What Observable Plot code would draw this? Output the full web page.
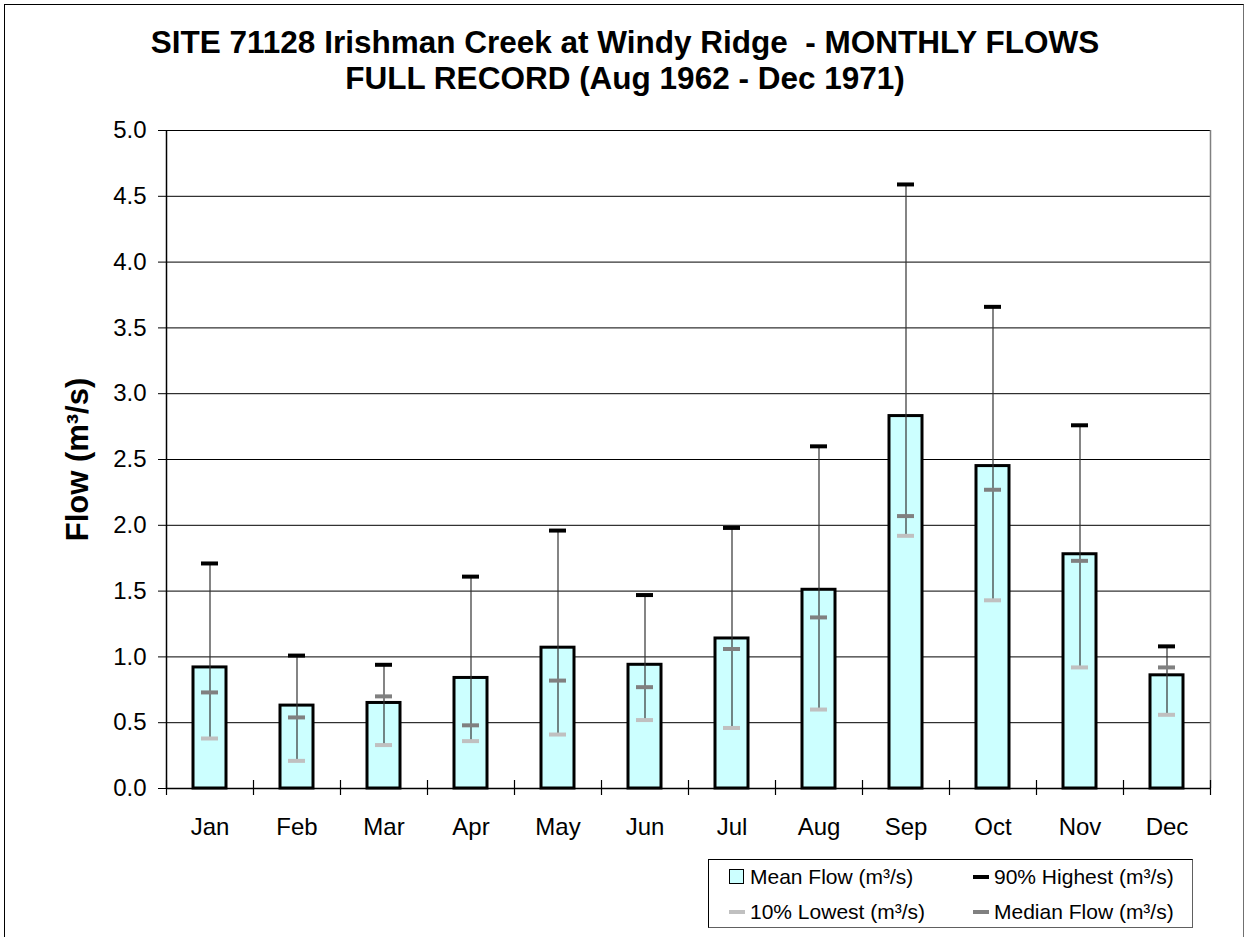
<!DOCTYPE html>
<html>
<head>
<meta charset="utf-8">
<script src="https://cdn.jsdelivr.net/npm/d3@7"></script>
<script src="https://cdn.jsdelivr.net/npm/@observablehq/plot@0.6"></script>
<style>
  html, body { margin: 0; padding: 0; background: #fff; }
  #wrap { position: relative; width: 1247px; height: 937px; overflow: hidden; background: #fff;
          font-family: "Liberation Sans", Arial, Helvetica, sans-serif; color: #000; }
  #frame { position: absolute; left: 4px; top: 4px; width: 1240px; height: 1000px;
           border: 1px solid #000; border-right-color: #707070; box-sizing: border-box; }
  #title { position: absolute; left: 5px; top: 24px; width: 1240px; text-align: center;
           font-weight: bold; font-size: 31.5px; line-height: 36px; white-space: pre; }
  #chart { position: absolute; left: 0; top: 110px; }
  #legend { position: absolute; left: 708px; top: 859px; width: 485px; height: 69px;
            border: 1px solid #000; border-right-color: #606060; border-bottom-color: #606060;
            box-sizing: border-box; font-size: 21px; }
  .item { position: absolute; white-space: nowrap; line-height: 24px; }
  .sw { position: absolute; }
</style>
</head>
<body>
<div id="wrap">
  <div id="frame"></div>
  <div id="title"></div>
  <div id="chart"></div>
  <div id="legend"></div>
</div>
<script>
// ---- data ----
const titleLines = ["SITE 71128 Irishman Creek at Windy Ridge  - MONTHLY FLOWS", "FULL RECORD (Aug 1962 - Dec 1971)"];
const yTitle = "Flow (m³/s)";
const months = ["Jan", "Feb", "Mar", "Apr", "May", "Jun", "Jul", "Aug", "Sep", "Oct", "Nov", "Dec"];
const meanFlow = [0.92, 0.63, 0.65, 0.84, 1.07, 0.94, 1.14, 1.51, 2.83, 2.45, 1.78, 0.86];
const high90   = [1.71, 1.01, 0.94, 1.61, 1.96, 1.47, 1.98, 2.60, 4.59, 3.66, 2.76, 1.08];
const median   = [0.73, 0.54, 0.70, 0.48, 0.82, 0.77, 1.06, 1.30, 2.07, 2.27, 1.73, 0.92];
const low10    = [0.38, 0.21, 0.33, 0.36, 0.41, 0.52, 0.46, 0.60, 1.92, 1.43, 0.92, 0.56];
const yTicks = [0, 0.5, 1, 1.5, 2, 2.5, 3, 3.5, 4, 4.5, 5];
const legendLabels = ["Mean Flow (m³/s)", "90% Highest (m³/s)", "10% Lowest (m³/s)", "Median Flow (m³/s)"];
const legendColors = ["#ccffff", "#000000", "#c0c0c0", "#808080"];

// ---- table ----
const rows = months.map((m, i) => ({i, month: m, mean: meanFlow[i], high: high90[i], median: median[i], low: low10[i]}));
const bounds = d3.range(0, months.length + 1);
const centers = months.map((m, i) => i + 0.5);

document.getElementById("title").textContent = titleLines.join("\n");

const chart = Plot.plot({
  width: 1247,
  height: 750,
  marginLeft: 166,
  marginRight: 37,
  marginTop: 20,
  marginBottom: 72,
  x: {domain: [0, months.length]},
  y: {domain: [0, 5]},
  style: {fontFamily: '"Liberation Sans", Arial, sans-serif', fontSize: "24px", color: "#000", background: "transparent", overflow: "visible"},
  marks: [
    Plot.gridY(yTicks.filter(d => d > 0), {stroke: "#000", strokeOpacity: 1, strokeWidth: 1}),
    Plot.ruleX([months.length], {stroke: "#808080", strokeWidth: 1.5}),
    Plot.rectY(rows, {x1: "i", x2: d => d.i + 1, y: "mean", fill: "#ccffff", stroke: "#000", strokeWidth: 3, insetLeft: 27, insetRight: 27}),
    Plot.ruleY([0], {stroke: "#000", strokeWidth: 1.5}),
    Plot.ruleX([0], {stroke: "#000", strokeWidth: 1.5}),
    Plot.ruleX(bounds, {x: d => d, y1: 0, y2: 0, insetTop: -8, insetBottom: -7, stroke: "#000", strokeWidth: 1.2}),
    Plot.ruleX(rows, {x: d => d.i + 0.5, y1: "low", y2: "high", stroke: "#333", strokeWidth: 1.2}),
    Plot.ruleY(rows, {x1: "i", x2: d => d.i + 1, y: "high", insetLeft: 35, insetRight: 35, stroke: legendColors[1], strokeWidth: 4}),
    Plot.ruleY(rows, {x1: "i", x2: d => d.i + 1, y: "low", insetLeft: 35, insetRight: 35, stroke: legendColors[2], strokeWidth: 4}),
    Plot.ruleY(rows, {x1: "i", x2: d => d.i + 1, y: "median", insetLeft: 35, insetRight: 35, stroke: legendColors[3], strokeWidth: 4}),
    Plot.axisY({ticks: yTicks, tickFormat: d3.format(".1f"), tickSize: 8, tickPadding: 12, label: null, stroke: "#000"}),
    Plot.axisX({ticks: centers, tickFormat: d => months[Math.floor(d)], tickSize: 0, tickPadding: 29, label: null}),
    Plot.text([yTitle], {text: d => d, frameAnchor: "left", textAnchor: "middle", rotate: -90, dx: -79, lineAnchor: "bottom", fontWeight: "bold", fontSize: 31})
  ]
});
document.getElementById("chart").appendChild(chart);

// ---- legend ----
const legend = document.getElementById("legend");
const pos = [[20, 17], [264, 17], [20, 52], [264, 52]]; // item layout (left of swatch, row centre) inside box
legendLabels.forEach((lab, k) => {
  const [lx, cy] = pos[k];
  const sw = document.createElement("div");
  sw.className = "sw";
  if (k === 0) {
    sw.style.cssText = `left:${lx}px;top:${cy - 8}px;width:13px;height:13px;background:${legendColors[k]};border:1.5px solid #000;`;
  } else {
    sw.style.cssText = `left:${lx}px;top:${cy - 2}px;width:16px;height:4px;background:${legendColors[k]};`;
  }
  legend.appendChild(sw);
  const t = document.createElement("div");
  t.className = "item";
  t.textContent = lab;
  t.style.left = (lx + 21) + "px";
  t.style.top = (cy - 12) + "px";
  legend.appendChild(t);
});
</script>
</body>
</html>
